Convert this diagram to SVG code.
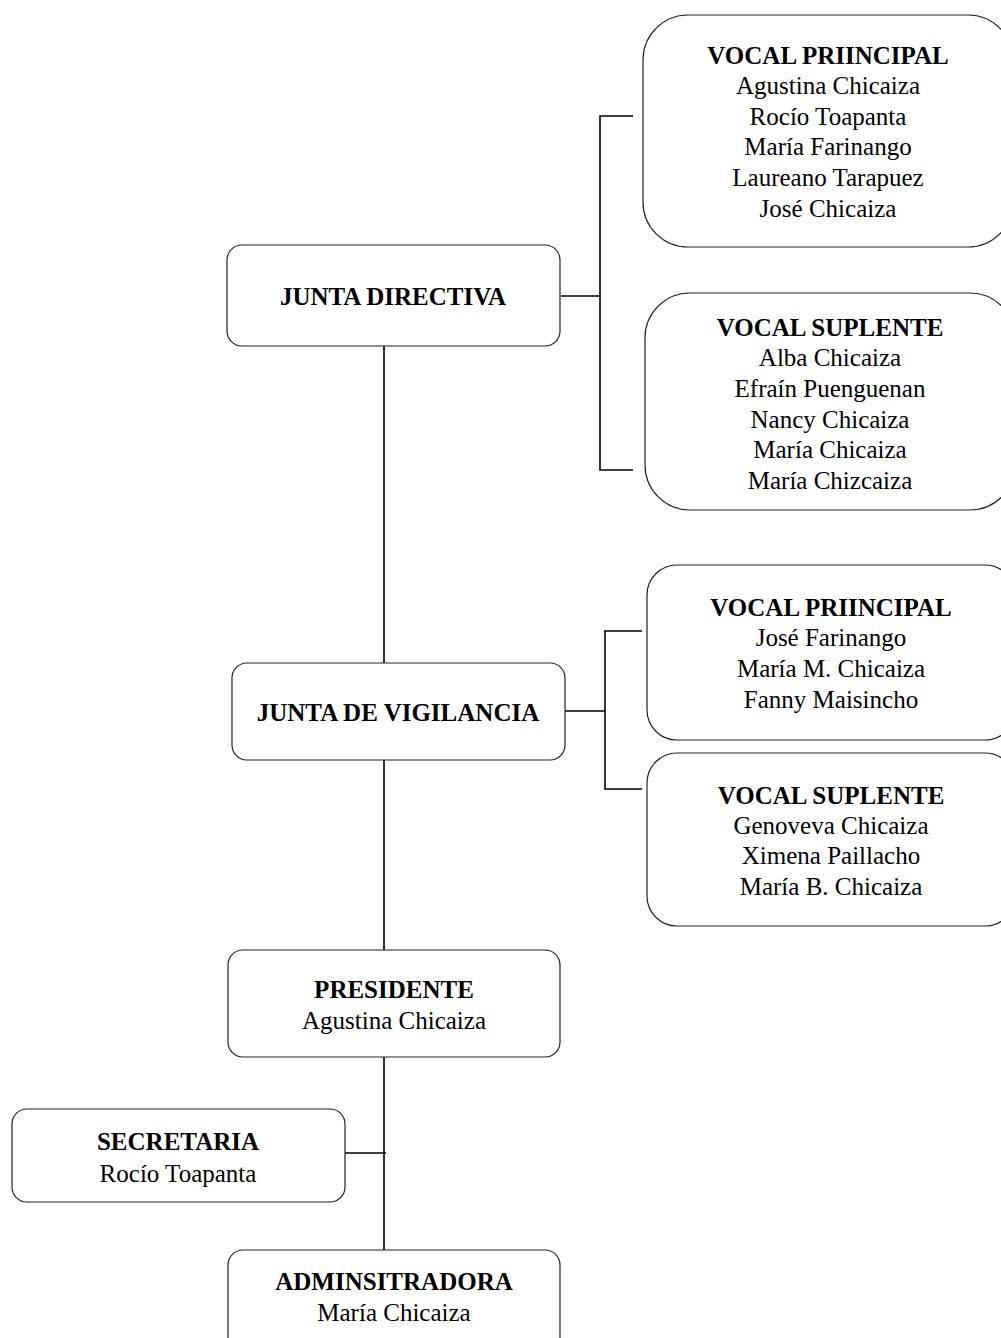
<svg xmlns="http://www.w3.org/2000/svg" width="1001" height="1338" viewBox="0 0 1001 1338">
<style>
.box{fill:#fff;stroke:#222;stroke-width:1.2}
.ln{fill:none;stroke:#000;stroke-width:1.6}
text{font-family:"Liberation Serif","Times New Roman",serif;font-size:25px;fill:#000;text-anchor:middle}
.b{font-weight:bold}
</style>
<rect width="1001" height="1338" fill="#fff"/>
<g id="connectors">
<path class="ln" d="M384,346 V663 M384,760 V950 M384,1057 V1250 M345,1153 H386"/>
<path class="ln" d="M561,296 H600 M633,116 H600 V470 H633"/>
<path class="ln" d="M565,711 H605 M642,631 H605 V789 H642"/>
</g>
<g id="vocal-principal-directiva">
<rect class="box" x="643" y="15" width="370" height="232" rx="45"/>
<text class="b" x="828" y="64">VOCAL PRIINCIPAL</text>
<text x="828" y="94">Agustina Chicaiza</text>
<text x="828" y="125">Rocío Toapanta</text>
<text x="828" y="155">María Farinango</text>
<text x="828" y="186">Laureano Tarapuez</text>
<text x="828" y="217">José Chicaiza</text>
</g>
<g id="vocal-suplente-directiva">
<rect class="box" x="645" y="293" width="370" height="217" rx="45"/>
<text class="b" x="830" y="336">VOCAL SUPLENTE</text>
<text x="830" y="366">Alba Chicaiza</text>
<text x="830" y="397">Efraín Puenguenan</text>
<text x="830" y="428">Nancy Chicaiza</text>
<text x="830" y="458">María Chicaiza</text>
<text x="830" y="489">María Chizcaiza</text>
</g>
<g id="junta-directiva">
<rect class="box" x="227" y="245" width="333" height="101" rx="15"/>
<text class="b" x="393" y="305">JUNTA DIRECTIVA</text>
</g>
<g id="junta-vigilancia">
<rect class="box" x="232" y="663" width="333" height="97" rx="15"/>
<text class="b" x="398" y="721">JUNTA DE VIGILANCIA</text>
</g>
<g id="vocal-principal-vigilancia">
<rect class="box" x="647" y="565" width="368" height="175" rx="30"/>
<text class="b" x="831" y="616">VOCAL PRIINCIPAL</text>
<text x="831" y="646">José Farinango</text>
<text x="831" y="677">María M. Chicaiza</text>
<text x="831" y="708">Fanny Maisincho</text>
</g>
<g id="vocal-suplente-vigilancia">
<rect class="box" x="647" y="753" width="368" height="173" rx="30"/>
<text class="b" x="831" y="804">VOCAL SUPLENTE</text>
<text x="831" y="834">Genoveva Chicaiza</text>
<text x="831" y="864">Ximena Paillacho</text>
<text x="831" y="895">María B. Chicaiza</text>
</g>
<g id="presidente">
<rect class="box" x="228" y="950" width="332" height="107" rx="15"/>
<text class="b" x="394" y="998">PRESIDENTE</text>
<text x="394" y="1029">Agustina Chicaiza</text>
</g>
<g id="secretaria">
<rect class="box" x="12" y="1109" width="333" height="93" rx="15"/>
<text class="b" x="178" y="1150">SECRETARIA</text>
<text x="178" y="1182">Rocío Toapanta</text>
</g>
<g id="administradora">
<rect class="box" x="228" y="1250" width="332" height="105" rx="15"/>
<text class="b" x="394" y="1290">ADMINSITRADORA</text>
<text x="394" y="1321">María Chicaiza</text>
</g>
</svg>
